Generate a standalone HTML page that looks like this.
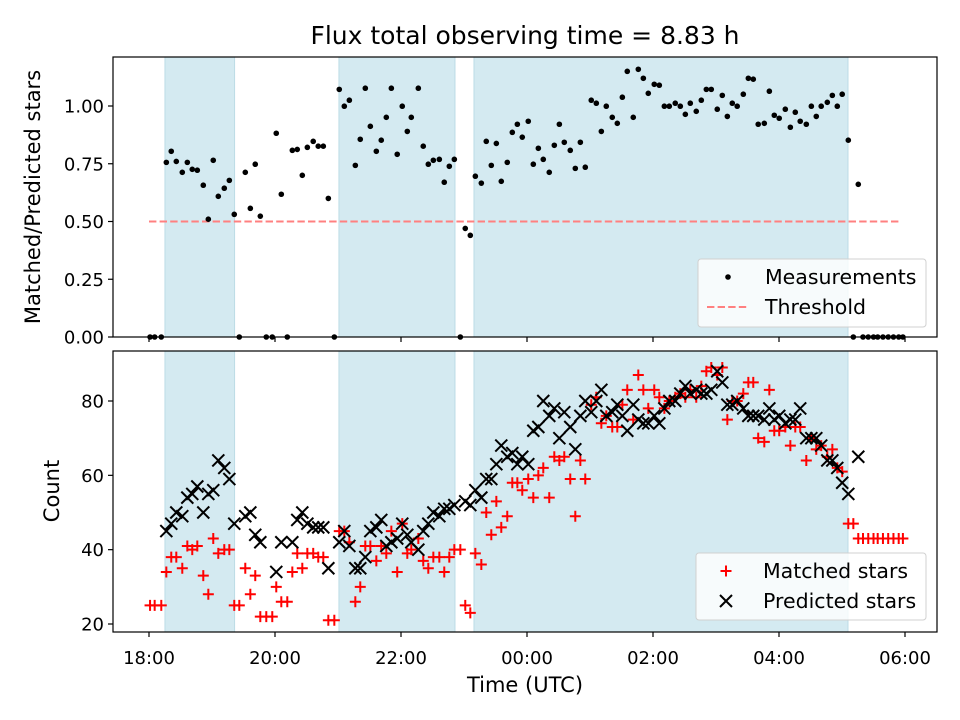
<!DOCTYPE html>
<html><head><meta charset="utf-8">
<style>
html,body{margin:0;padding:0;background:#fff;}
svg{display:block;font-family:"DejaVu Sans","Liberation Sans",sans-serif;}
</style></head>
<body>
<svg id="chart" width="960" height="720" viewBox="0 0 960 720" xmlns="http://www.w3.org/2000/svg">
<rect width="960" height="720" fill="#fff"/>
<text x="525" y="44" font-size="25" text-anchor="middle" fill="#000">Flux total observing time = 8.83 h</text>
<g id="topPanel"></g>
<g id="botPanel"></g>
<text transform="translate(40,197) rotate(-90)" font-size="21" text-anchor="middle">Matched/Predicted stars</text>
<text transform="translate(59,491) rotate(-90)" font-size="21" text-anchor="middle">Count</text>
<text x="525" y="692" font-size="21" text-anchor="middle">Time (UTC)</text>
</svg>
<script>
// minutes since 18:00
const times = [1,5.4,11.7,16.5,21.2,26,31.7,36.5,41.2,46,51.7,56.5,61.2,66,71.7,76.5,81.2,86,91.7,96.5,101.2,106,111.7,117.4,121.2,126,131.7,136.5,141.2,146,150.8,156.4,161.2,166,170.8,176.5,181.2,186,190.8,196.5,201.2,206,210.8,216.5,221.2,226,230.8,236.4,241.2,246,249.8,256.5,261.2,266,270.8,276.5,281.2,286,290.8,296.5,301.2,306,310.8,316.5,321.2,326,330.8,335.5,341.2,346,350.8,355.5,361.2,366,370.8,375.5,381.2,386,390.8,395.5,401.2,406,410.8,415.5,421.2,426,430.8,435.5,441.2,446,450.8,455.5,461.2,466,470.8,475.5,481.2,486,490.8,495.5,501.2,506,510.8,515.5,521.2,526,530.8,535.5,541.2,546,550.8,555.5,560.2,566,570.8,575.5,580.2,586,590.8,595.5,600.2,606,610.8,615.5,620.2,626,630.8,635.5,640.2,646,650.8,655.5,660.2,666,670.8,675.5,680,685,690,694,699,704,709,714,718];
const ratios = [0,0,0,.756,.804,.760,.713,.756,.726,.722,.657,.510,.765,.609,.644,.678,.531,0,.713,.557,.748,.523,0,0,.882,.618,0,.808,.812,.700,.821,.847,.826,.826,.600,0,1.072,.999,1.025,.743,.856,1.077,.912,.804,.852,.951,1.077,.791,.999,.890,.951,1.077,.826,.748,.765,.769,.670,.739,.769,0,.470,.440,.696,.666,.847,.743,.838,.674,.756,.886,.921,.865,.934,.748,.817,.769,.713,.830,.921,.843,.808,.730,.843,.735,1.025,1.012,.890,.999,.951,.925,1.038,1.150,.951,1.159,1.120,1.055,1.094,1.090,.999,.999,1.012,.999,.964,1.012,.977,1.025,1.072,1.072,.986,1.046,.955,1.012,.999,1.051,1.120,1.116,.921,.925,1.064,.960,.947,.986,.908,.973,.934,.921,.999,.955,.999,1.016,1.046,.999,1.051,.852,0,.661,0,0,0,0,0,0,0,0,0];
const predicted = [null,null,null,45,47,50,49,54,55,57,50,55,56,64,62,59,47,null,49,50,44,42,null,null,34,42,null,42,48,50,47,46,46,46,35,null,42,45,41,35,35,38,45,46,48,41,42,43,47,44,42,40,45,47,50,49,51,51,52,null,53,52,56,54,59,59,63,68,65,66,63,65,63,72,73,80,76,78,70,77,73,67,76,80,77,80,83,76,77,79,76,72,79,75,74,74,76,74,78,80,80,82,84,82,83,82,82,83,88,85,79,79,80,78,76,76,76,75,78,75,76,74,75,75,78,70,70,70,68,64,64,62,58,55,null,65,null,null,null,null,null,null,null,null,null];
const matched = [25,25,25,34,38,38,35,41,40,41,33,28,43,39,40,40,25,25,35,28,33,22,22,22,30,26,26,34,39,35,39,39,38,38,21,21,45,45,42,26,30,41,41,37,41,39,45,34,47,39,40,43,37,35,38,38,34,38,40,40,25,23,39,36,50,44,53,46,49,58,58,56,59,54,60,62,54,65,64,65,59,49,64,59,79,81,74,76,73,73,79,83,75,87,83,78,83,81,78,80,81,82,81,83,81,84,88,89,87,89,75,80,80,82,85,85,70,69,83,72,72,73,68,73,73,64,70,67,68,65,67,62,61,47,47,43,43,43,43,43,43,43,43,43,43];
const ratioTicks = [0,0.25,0.5,0.75,1.0];
const ratioTickLabels = ["0.00","0.25","0.50","0.75","1.00"];
const countTicks = [20,40,60,80];
const xTicks = [0,120,240,360,480,600,720];
const xTickLabels = ["18:00","20:00","22:00","00:00","02:00","04:00","06:00"];
const shaded = [[15.2,81.5],[180.9,291.4],[309.5,665.7]];
const threshold = 0.5;
const thresholdRange = [0,716];

(function(){
const NS="http://www.w3.org/2000/svg";
function mk(tag,attrs,parent){const e=document.createElementNS(NS,tag);for(const k in attrs)e.setAttribute(k,attrs[k]);parent.appendChild(e);return e;}
const L=113,R=937;
const xs=m=>149+m*1.05;
const yTop=v=>337-v*231;
const yBot=c=>624-(c-20)*223/60;
const gTop=document.getElementById('topPanel'), gBot=document.getElementById('botPanel');
const svg=document.getElementById('chart');

function panel(g,T,B,prefix){
  shaded.forEach((s,i)=>{
    const r=mk('rect',{x:xs(s[0]),y:T,width:xs(s[1])-xs(s[0]),height:B-T,fill:'#d4eaf1',stroke:'#bcdce6','stroke-width':1},g);
    
    
  });
}
panel(gTop,57,337,'ratio');
panel(gBot,351,632,'count');

const th=mk('line',{x1:xs(thresholdRange[0]),x2:xs(thresholdRange[1]),y1:yTop(threshold),y2:yTop(threshold),stroke:'#ff8080','stroke-width':2,'stroke-dasharray':'7.4,3.2'},gTop);



times.forEach((t,i)=>{
  const c=mk('circle',{cx:xs(t),cy:yTop(ratios[i]),r:2.8,fill:'#000'},gTop);
  
  
});
times.forEach((t,i)=>{
  const x=xs(t),y=yBot(matched[i]);
  const p=mk('path',{d:`M${x-5.5},${y}H${x+5.5}M${x},${y-5.5}V${y+5.5}`,stroke:'#ff0000','stroke-width':2,fill:'none'},gBot);
  
  
});
times.forEach((t,i)=>{
  if(predicted[i]===null)return;
  const x=xs(t),y=yBot(predicted[i]);
  const p=mk('path',{d:`M${x-6},${y-6}L${x+6},${y+6}M${x-6},${y+6}L${x+6},${y-6}`,stroke:'#000','stroke-width':2,fill:'none'},gBot);
  
  
});

[[57,337,'ratio-plot-frame'],[351,632,'count-plot-frame']].forEach(f=>{
  const r=mk('rect',{x:L,y:f[0],width:R-L,height:f[1]-f[0],fill:'none',stroke:'#000','stroke-width':1.2},svg);
  
  
});
ratioTicks.forEach((v,i)=>{
  const y=yTop(v);
  mk('line',{x1:L-5,x2:L,y1:y,y2:y,stroke:'#000','stroke-width':1.2},svg);
  const t=mk('text',{x:L-9,y:y+6.5,'font-size':18,'text-anchor':'end'},svg);
  t.textContent=ratioTickLabels[i];
  
  
});
countTicks.forEach(v=>{
  const y=yBot(v);
  mk('line',{x1:L-5,x2:L,y1:y,y2:y,stroke:'#000','stroke-width':1.2},svg);
  const t=mk('text',{x:L-9,y:y+6.5,'font-size':18,'text-anchor':'end'},svg);
  t.textContent=String(v);
  
  
});
xTicks.forEach((m,i)=>{
  const x=xs(m);
  mk('line',{x1:x,x2:x,y1:337,y2:342,stroke:'#000','stroke-width':1.2},svg);
  mk('line',{x1:x,x2:x,y1:632,y2:637,stroke:'#000','stroke-width':1.2},svg);
  const t=mk('text',{x:x,y:664,'font-size':18,'text-anchor':'middle'},svg);
  t.textContent=xTickLabels[i];
  
  
});

function legend(x,y,w,h,name,entries){
  const g=mk('g',{},svg);
  
  
  mk('rect',{x:x,y:y,width:w,height:h,rx:3,fill:'rgba(255,255,255,0.8)',stroke:'#d0d0d0','stroke-width':1},g);
  entries.forEach((e,i)=>{
    const cy=y+18+i*30;
    e.draw(g,x+30,cy);
    const t=mk('text',{x:x+67,y:cy+7,'font-size':20.5},g);
    t.textContent=e.label;
    
    
  });
}
legend(698,259,228,68,'ratio-legend',[
  {label:'Measurements',draw:(g,x,y)=>mk('circle',{cx:x,cy:y,r:2.8,fill:'#000'},g)},
  {label:'Threshold',draw:(g,x,y)=>mk('line',{x1:x-21,x2:x+21,y1:y,y2:y,stroke:'#ff8080','stroke-width':2,'stroke-dasharray':'7.4,3.2'},g)}
]);
legend(696,553,230,67,'count-legend',[
  {label:'Matched stars',draw:(g,x,y)=>mk('path',{d:`M${x-5.5},${y}H${x+5.5}M${x},${y-5.5}V${y+5.5}`,stroke:'#f00','stroke-width':2},g)},
  {label:'Predicted stars',draw:(g,x,y)=>mk('path',{d:`M${x-6},${y-6}L${x+6},${y+6}M${x-6},${y+6}L${x+6},${y-6}`,stroke:'#000','stroke-width':2},g)}
]);
})();
</script>
</body></html>
